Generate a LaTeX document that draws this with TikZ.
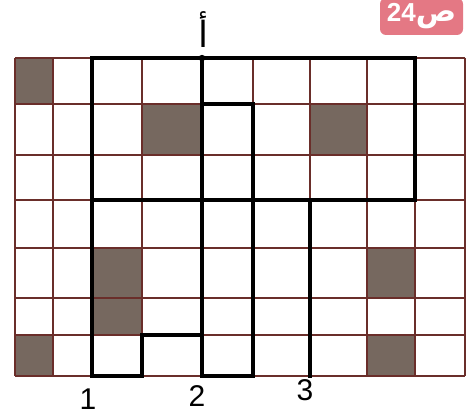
\documentclass[tikz,border=0pt]{standalone}
\usepackage{fontspec}
\setmainfont{Liberation Sans}
\newfontfamily\arabicfont[Script=Arabic]{DejaVu Sans}
\TeXXeTstate=1
\definecolor{gridc}{HTML}{6A2E2A}
\definecolor{shadec}{HTML}{76685F}
\definecolor{badgec}{HTML}{E47884}
\begin{document}
\begin{tikzpicture}[x=1pt,y=-1pt,
  gridline/.style={draw=gridc,line width=1.4pt},
  thickline/.style={draw=black,line width=3.2pt,line join=miter,line cap=rect},
  cellfill/.style={fill=shadec},
  numlabel/.style={font=\fontsize{30}{30}\selectfont,inner sep=0pt}]
\useasboundingbox (0,0) rectangle (469,417);
\fill[white] (0,0) rectangle (469,417);
\foreach \x [count=\i from 0] in {15,53,92,142,202,253,310,367,415,465}
  \foreach \y [count=\j from 0] in {58,104,155,200,248,298,335,376}
    \coordinate (g\i-\j) at (\x,\y);
% shaded cells
\fill[cellfill] (g0-0) rectangle (g1-1);
\fill[cellfill] (g3-1) rectangle (g4-2);
\fill[cellfill] (g6-1) rectangle (g7-2);
\fill[cellfill] (g2-4) rectangle (g3-6);
\fill[cellfill] (g7-4) rectangle (g8-5);
\fill[cellfill] (g7-6) rectangle (g8-7);
\fill[cellfill] (g0-6) rectangle (g1-7);
% thin grid
\foreach \i in {0,...,9} \draw[gridline] (g\i-0) -- (g\i-7);
\foreach \j in {0,...,7} \draw[gridline] (g0-\j) -- (g9-\j);
% thick outlines
\draw[thickline] (g2-0) rectangle (g8-3);
\draw[thickline] (g4-0) -- (g4-1);
\draw[thickline] (g4-1) rectangle (g5-7);
\draw[thickline] (g2-3) -- (g2-7) -- (g3-7) -- (g3-6) -- (g4-6);
\draw[thickline] (g6-3) -- (g6-7);
% point and labels
\fill[black] (g4-0) circle (3.2pt);
\node[font=\fontsize{36}{36}\selectfont\arabicfont,inner sep=0pt] (alef) at (203,30) {أ};
\node[numlabel] (n1) at (88,399) {1};
\node[numlabel] (n2) at (197,396) {2};
\node[numlabel] (n3) at (305,390) {3};
\node[fill=badgec,rounded corners=6pt,minimum width=83pt,minimum height=37pt,inner sep=0pt,text=white,font=\bfseries\fontsize{26}{26}\selectfont] (badge) at (421.5,16.5) {24{\arabicfont\fontsize{30}{30}\selectfont ص}};
\end{tikzpicture}
\end{document}
